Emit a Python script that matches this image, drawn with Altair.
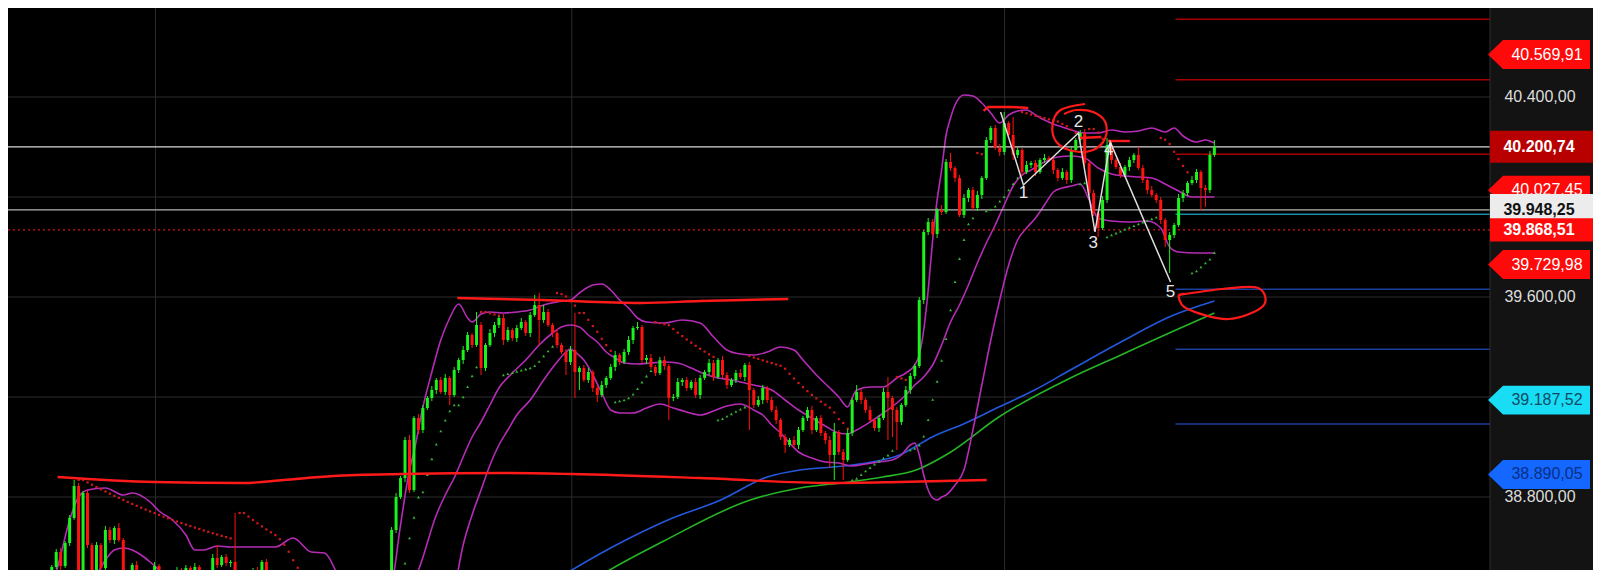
import altair as alt
import pandas as pd

# ---------------- candles (bar index t, price) ----------------
first_open = 38460
closes = [
 38520, 38580, 38524, 38616, 38716, 38844, 38428, 38816, 38608, 38468,
 38608, 38516, 38668, 38628, 38676, 38628, 38488, 38428, 38528, 38468,
 38420, 38488, 38436, 38524, 38476, 38428, 38488, 38448, 38508, 38468,
 38516, 38500, 38520, 38488, 38448, 38488, 38556, 38528, 38560, 38536,
 38540, 38428, 38396, 38448, 38488, 38508, 38500, 38540, 38488, 38448,
 38388, 38368, 38340, 38308, 38328, 38288, 38260, 38276, 38248, 38228,
 38268, 38288, 38260, 38308, 38340, 38316, 38368, 38396, 38372, 38408,
 38388, 38428, 38404, 38448, 38420, 38468, 38668, 38800, 38876, 39028,
 38828, 39116, 39068, 39156, 39196, 39228, 39268, 39220, 39276, 39208,
 39308, 39348, 39388, 39448, 39408, 39488, 39316, 39408, 39456, 39488,
 39516, 39428, 39468, 39436, 39476, 39500, 39456, 39528, 39568, 39508,
 39540, 39488, 39456, 39408, 39380, 39340, 39388, 39300, 39316, 39268,
 39300, 39236, 39208, 39248, 39276, 39320, 39368, 39340, 39380, 39428,
 39476, 39480, 39348, 39356, 39320, 39296, 39348, 39324, 39196, 39200,
 39260, 39268, 39236, 39260, 39208, 39276, 39300, 39336, 39280, 39348,
 39288, 39248, 39268, 39296, 39280, 39328, 39228, 39168, 39188, 39236,
 39188, 39148, 39108, 39040, 39008, 39028, 39008, 39068, 39116, 39148,
 39068, 39116, 39056, 39028, 38968, 39060, 38980, 38948, 39056, 39188,
 39220, 39188, 39148, 39108, 39076, 39116, 39220, 39196, 39148, 39100,
 39168, 39228, 39284, 39324, 39588, 39860, 39900, 39852, 39948, 39940,
 40140, 40116, 40076, 39928, 39996, 40028, 39956, 40008, 40076, 40228,
 40276, 40196, 40180, 40296, 40248, 40168, 40188, 40100, 40128, 40136,
 40100, 40148, 40156, 40148, 40108, 40076, 40100, 40068, 40188, 40228,
 40256, 40136, 40016, 39936, 39876, 39988, 40208, 40148, 40120, 40088,
 40120, 40148, 40168, 40116, 40068, 40028, 40008, 39988, 39908, 39828,
 39848, 39888, 39996, 40016, 40056, 40068, 40100, 40036, 40028, 40168,
 40200.74,
]
wick_up = [
 8, 12, 16, 8, 12, 24, 12, 8, 12, 8,
 12, 8, 16, 12, 8, 20, 8, 12, 8, 16,
 8, 12, 8, 16, 8, 12, 8, 16, 12, 8,
 12, 8, 16, 8, 12, 8, 16, 52, 8, 12,
 8, 196, 12, 8, 16, 8, 12, 8, 12, 8,
 12, 8, 16, 8, 12, 8, 16, 8, 12, 8,
 12, 8, 16, 8, 12, 8, 16, 8, 12, 8,
 12, 8, 16, 8, 12, 8, 12, 16, 8, 12,
 20, 8, 16, 12, 8, 16, 8, 12, 16, 8,
 12, 8, 16, 12, 8, 52, 12, 8, 16, 12,
 8, 16, 12, 8, 12, 16, 8, 12, 40, 48,
 28, 12, 8, 16, 8, 12, 16, 148, 8, 12,
 16, 8, 12, 16, 8, 12, 16, 8, 12, 16,
 8, 20, 8, 12, 16, 8, 12, 16, 8, 12,
 16, 8, 12, 8, 16, 12, 8, 16, 12, 8,
 16, 12, 8, 12, 16, 8, 12, 8, 16, 12,
 8, 12, 16, 8, 12, 8, 16, 12, 8, 12,
 16, 8, 12, 8, 16, 36, 8, 12, 16, 8,
 28, 12, 8, 16, 8, 12, 16, 60, 8, 12,
 8, 16, 12, 8, 12, 8, 16, 12, 8, 20,
 12, 36, 8, 12, 16, 8, 12, 16, 8, 12,
 8, 12, 16, 44, 8, 72, 12, 8, 16, 8,
 12, 8, 16, 8, 12, 8, 16, 8, 12, 8,
 12, 16, 8, 12, 8, 16, 28, 12, 8, 16,
 8, 12, 8, 32, 12, 8, 16, 8, 12, 8,
 12, 8, 16, 12, 8, 16, 12, 8, 12, 16,
 27,
]
wick_dn = [
 12, 8, 16, 8, 12, 8, 40, 40, 12, 8,
 16, 12, 8, 12, 16, 8, 12, 16, 8, 12,
 8, 16, 12, 8, 12, 16, 8, 12, 8, 16,
 8, 12, 16, 8, 12, 8, 16, 12, 8, 12,
 16, 8, 12, 16, 8, 12, 8, 16, 12, 8,
 12, 16, 8, 12, 8, 16, 12, 8, 16, 12,
 8, 12, 16, 8, 12, 16, 8, 12, 8, 16,
 12, 8, 16, 12, 8, 12, 20, 12, 8, 16,
 12, 8, 16, 12, 8, 12, 16, 8, 12, 40,
 8, 12, 16, 8, 12, 8, 28, 12, 8, 16,
 12, 20, 8, 12, 16, 8, 12, 16, 8, 100,
 12, 8, 16, 12, 8, 52, 12, 104, 72, 8,
 12, 16, 28, 8, 12, 8, 16, 12, 8, 12,
 16, 8, 12, 16, 8, 12, 8, 16, 88, 12,
 8, 16, 12, 8, 12, 16, 8, 12, 16, 8,
 12, 16, 8, 12, 8, 16, 160, 12, 8, 16,
 12, 8, 16, 12, 32, 8, 12, 16, 8, 12,
 16, 8, 12, 16, 52, 100, 12, 80, 8, 12,
 8, 16, 12, 8, 12, 16, 8, 168, 108, 112,
 12, 8, 16, 12, 8, 16, 12, 8, 16, 12,
 8, 12, 16, 8, 12, 16, 8, 12, 16, 8,
 12, 8, 16, 12, 8, 20, 12, 16, 8, 12,
 16, 8, 12, 8, 16, 12, 8, 16, 12, 8,
 12, 16, 8, 12, 36, 8, 12, 16, 8, 12,
 8, 16, 12, 8, 12, 16, 8, 12, 16, 28,
 132, 12, 8, 16, 12, 8, 12, 88, 68, 12,
 8,
]

# ---------------- Bollinger bands ----------------
up_t = [0, 2, 4, 6, 8, 12, 16, 18, 22, 24, 27, 30, 32, 34, 37, 40, 45, 50, 54, 58, 61, 64, 66, 70, 74, 76, 78, 80, 81, 83,
        85, 87, 89, 91, 93, 94, 96, 98, 101, 104, 107, 110, 113, 116, 118, 121, 123, 125, 127, 129, 131, 133, 137, 141,
        145, 148, 151, 154, 157, 160, 163, 166, 168, 171, 174, 176, 178, 179, 180, 183, 186, 189, 191, 193, 194, 195, 196,
        197, 198, 199, 200, 201, 202, 204, 206, 208, 210, 212, 214, 216, 218, 220, 222, 224, 226, 228, 231, 234, 237, 240,
        243, 246, 249, 251, 253, 256, 258, 260]
up_v = [38428, 38568, 38708, 38800, 38828, 38836, 38808, 38816, 38780, 38744, 38708, 38648, 38588, 38588, 38604, 38600,
        38600, 38600, 38636, 38580, 38576, 38488, 38428, 38388, 38388, 38448, 38688, 38908, 38980, 39160, 39300, 39428,
        39516, 39572, 39516, 39500, 39532, 39540, 39536, 39540, 39548, 39568, 39580, 39588, 39616, 39648, 39652, 39628,
        39588, 39556, 39516, 39500, 39496, 39508, 39496, 39440, 39388, 39372, 39368, 39380, 39400, 39388, 39348, 39288,
        39236, 39200, 39160, 39196, 39228, 39240, 39240, 39276, 39296, 39328, 39368, 39468, 39628, 39828, 39988, 40108,
        40248, 40316, 40368, 40408, 40404, 40376, 40336, 40296, 40328, 40344, 40348, 40328, 40308, 40292, 40280, 40268,
        40256, 40256, 40268, 40260, 40264, 40276, 40260, 40276, 40244, 40220, 40228, 40216]
mid_t = [6, 8, 10, 12, 14, 16, 18, 20, 22, 24, 26, 28, 32, 36, 40, 45, 50, 54, 58, 62, 66, 70, 74, 78, 82, 86, 88, 90, 92,
         94, 96, 98, 100, 103, 106, 109, 112, 114, 116, 118, 120, 122, 124, 126, 128, 131, 134, 137, 140, 143, 146, 149,
         152, 155, 158, 161, 164, 167, 170, 173, 176, 178, 180, 183, 186, 189, 191, 193, 195, 197, 199, 201, 203, 205, 207,
         209, 211, 213, 215, 217, 219, 222, 225, 228, 231, 234, 237, 240, 243, 246, 249, 252, 255, 258, 260]
mid_v = [38348, 38428, 38488, 38548, 38588, 38596, 38588, 38568, 38540, 38508, 38476, 38448, 38428, 38460, 38480, 38484,
         38468, 38428, 38388, 38348, 38328, 38328, 38328, 38388, 38508, 38728, 38808, 38876, 38960, 39040, 39100, 39168,
         39236, 39296, 39348, 39408, 39456, 39480, 39488, 39480, 39448, 39420, 39380, 39356, 39336, 39332, 39336, 39340,
         39336, 39316, 39292, 39276, 39268, 39256, 39244, 39228, 39188, 39148, 39116, 39084, 39056, 39052, 39068, 39100,
         39136, 39176, 39208, 39248, 39280, 39328, 39408, 39500, 39568, 39648, 39736, 39816, 39888, 39968, 40044, 40088,
         40108, 40140, 40160, 40164, 40156, 40116, 40092, 40084, 40080, 40076, 40052, 40024, 40000, 40000, 40000]
low_t = [0, 10, 20, 30, 40, 50, 60, 70, 80, 86, 90, 92, 94, 96, 98, 100, 102, 104, 107, 110, 113, 115, 116, 117, 119, 121,
         123, 125, 127, 130, 133, 136, 139, 142, 145, 148, 151, 154, 157, 159, 161, 163, 165, 167, 170, 173, 176, 179, 182,
         185, 188, 190, 192, 193, 194, 195, 196, 197, 198, 199, 200, 202, 204, 206, 208, 210, 212, 214, 216, 218, 220, 222,
         224, 226, 228, 230, 232, 234, 237, 241, 245, 248, 250, 252, 256, 260]
low_v = [38068, 38228, 38308, 38308, 38348, 38328, 38228, 38228, 38148, 38228, 38428, 38608, 38728, 38828, 38928, 39008,
         39068, 39128, 39188, 39268, 39340, 39380, 39392, 39380, 39348, 39288, 39216, 39148, 39136, 39136, 39156, 39172,
         39156, 39140, 39128, 39144, 39164, 39172, 39148, 39128, 39088, 39056, 39016, 38980, 38956, 38940, 38936, 38924,
         38932, 38940, 38948, 38968, 39008, 39016, 38968, 38888, 38828, 38796, 38788, 38800, 38808, 38848, 38908, 39068,
         39248, 39428, 39588, 39728, 39828, 39876, 39916, 39968, 40020, 40036, 40044, 40052, 39988, 39916, 39904, 39900,
         39904, 39876, 39800, 39780, 39776, 39776]

# ---------------- moving averages ----------------
blue_t = [109.6, 113.3, 125.8, 137.8, 149.6, 160.0, 167.3, 174.7, 182.2, 189.6, 196.9, 204.4, 211.8, 219.8, 227.8,
          239.1, 250.4, 260.0]
blue_v = [38436, 38476, 38604, 38708, 38788, 38880, 38908, 38920, 38936, 38968, 39040, 39096, 39160, 39228, 39308,
          39420, 39524, 39584]
green_t = [118.4, 122.9, 136.9, 156.2, 167.3, 178.4, 185.8, 193.3, 200.7, 211.8, 227.8, 239.1, 250.4, 260.0]
green_v = [38436, 38488, 38624, 38788, 38836, 38860, 38880, 38908, 38976, 39120, 39276, 39368, 39460, 39536]

# ---------------- levels ----------------
grid_levels = [40400, 40000, 39600, 39200, 38800]
vgrid_t = [23.2, 116.3, 213.1]
white_levels = [40200.74, 39948.25]
white_colors = ["#d8d8d8", "#b4b4b4"]
dotted_level = 39868.51
pivot_levels = [40711, 40469, 40171, 39931, 39631, 39391, 39092]
pivot_colors = ["#a80000", "#a80000", "#a80000", "#1c8aa8", "#1d3f9c", "#1d3f9c", "#1d3f9c"]
pivot_start_t = 251.3

# ---------------- hand drawn annotations ----------------
red_paths = {
    "a": ([90.7, 109.6, 131.8, 145.1, 164.7], [39596, 39588, 39576, 39584, 39592]),
    "b": ([1.3, 22.9, 42.9, 51.8, 62.9, 78.4, 100.7, 116.2, 145.1, 174.0, 189.6, 209.1],
          [38880, 38860, 38856, 38868, 38884, 38892, 38896, 38892, 38876, 38856, 38860, 38868]),
    "c": ([208.4, 209.6, 214.0, 218.4], [40344, 40360, 40360, 40356]),
    "d": ([229.6, 234.7], [40236, 40240]),
    "e": ([236.2, 241.1], [40224, 40224]),
}
circle1_t = [231.1, 225.6, 223.8, 224.7, 228.4, 232.9, 235.6, 235.6, 232.9, 229.1, 226.4]
circle1_v = [40372, 40348, 40288, 40220, 40184, 40188, 40236, 40300, 40340, 40348, 40332]
circle2_t = [252.2, 261.8, 269.8, 270.9, 263.1, 254.0, 252.0, 253.5]
circle2_v = [39608, 39632, 39636, 39564, 39512, 39552, 39604, 39612]
zig_t = [212.2, 217.3, 229.6, 233.3, 236.7, 250.2]
zig_v = [40340, 40048, 40256, 39860, 40220, 39660]
zig_labels = ["1", "2", "3", "4", "5"]
zig_lab_t = [217.3, 229.6, 232.9, 236.4, 250.2]
zig_lab_v = [40016, 40300, 39816, 40188, 39620]

# ---------------- right axis badges ----------------
arrow_vals = [40569.91, 40027.45, 39729.98, 39187.52, 38890.05]
arrow_text = ["40.569,91", "40.027,45", "39.729,98", "39.187,52", "38.890,05"]
arrow_fill = ["#ff0a0a", "#ff0a0a", "#ff0a0a", "#19dcf5", "#1467ff"]
arrow_tcol = ["#ffffff", "#ffffff", "#ffffff", "#0d4a66", "#0a2f86"]
axis_vals = [40400, 39600, 38800]
axis_text = ["40.400,00", "39.600,00", "38.800,00"]

# ================= build =================
n = len(closes)
opens = [first_open] + closes[:-1]
highs = [max(o, c) + u for o, c, u in zip(opens, closes, wick_up)]
lows = [min(o, c) - d for o, c, d in zip(opens, closes, wick_dn)]
candles = pd.DataFrame({
    "t": list(range(n)), "open": opens, "close": closes, "high": highs, "low": lows,
    "dir": ["up" if c >= o else "down" for o, c in zip(opens, closes)],
})


def psar(hi, lo, af0=0.02, afstep=0.02, afmax=0.2):
    out = []
    up = True
    sar = lo[0]
    ep = hi[0]
    af = af0
    for i in range(1, len(hi)):
        sar = sar + af * (ep - sar)
        if up:
            sar = min(sar, lo[i - 1], lo[i - 2] if i > 1 else lo[i - 1])
            if lo[i] < sar:
                up, sar, ep, af = False, ep, lo[i], af0
            elif hi[i] > ep:
                ep, af = hi[i], min(af + afstep, afmax)
        else:
            sar = max(sar, hi[i - 1], hi[i - 2] if i > 1 else hi[i - 1])
            if hi[i] > sar:
                up, sar, ep, af = True, ep, hi[i], af0
            elif lo[i] < ep:
                ep, af = lo[i], min(af + afstep, afmax)
        out.append({"t": i, "v": sar, "dir": "up" if up else "down"})
    return pd.DataFrame(out)


sar_df = psar(highs, lows)

W, H = 1585, 562
xs = alt.Scale(domain=[-8.6667, 343.5556], nice=False, zero=False)
ys = alt.Scale(domain=[38508, 40756], nice=False, zero=False)


def X(f="t"):
    return alt.X(f"{f}:Q", scale=xs, axis=None)


def Y(f="v"):
    return alt.Y(f"{f}:Q", scale=ys, axis=None)


PANEL_X = 1482
layers = []

# grid
layers.append(alt.Chart(pd.DataFrame({"v": grid_levels})).mark_rule(color="#2c2c2c", strokeWidth=1).encode(
    y=Y(), x=alt.value(0), x2=alt.value(PANEL_X)))
layers.append(alt.Chart(pd.DataFrame({"t": vgrid_t})).mark_rule(color="#2c2c2c", strokeWidth=1).encode(
    x=X(), y=alt.value(0), y2=alt.value(H)))

# moving averages
layers.append(alt.Chart(pd.DataFrame({"t": blue_t, "v": blue_v})).mark_line(
    color="#2458dc", strokeWidth=1.6, interpolate="monotone", clip=True).encode(x=X(), y=Y()))
layers.append(alt.Chart(pd.DataFrame({"t": green_t, "v": green_v})).mark_line(
    color="#26b526", strokeWidth=1.6, interpolate="monotone", clip=True).encode(x=X(), y=Y()))

# Bollinger bands
bb = pd.concat([
    pd.DataFrame({"t": up_t, "v": up_v, "b": "upper"}),
    pd.DataFrame({"t": mid_t, "v": mid_v, "b": "middle"}),
    pd.DataFrame({"t": low_t, "v": low_v, "b": "lower"}),
])
layers.append(alt.Chart(bb).mark_line(color="#b62cb6", strokeWidth=1.6, interpolate="monotone", clip=True).encode(
    x=X(), y=Y(), detail="b:N"))

# price levels
layers.append(alt.Chart(pd.DataFrame({"v": white_levels, "c": white_colors})).mark_rule(strokeWidth=1.2).encode(
    y=Y(), x=alt.value(0), x2=alt.value(PANEL_X), color=alt.Color("c:N", scale=None)))
layers.append(alt.Chart(pd.DataFrame({"v": [dotted_level]})).mark_rule(
    color="#d81414", strokeWidth=1.2, strokeDash=[2, 3]).encode(y=Y(), x=alt.value(0), x2=alt.value(PANEL_X)))
layers.append(alt.Chart(pd.DataFrame({"v": pivot_levels, "c": pivot_colors, "t": pivot_start_t})).mark_rule(
    strokeWidth=1.6).encode(y=Y(), x=X(), x2=alt.value(PANEL_X), color=alt.Color("c:N", scale=None)))

# parabolic SAR
layers.append(alt.Chart(sar_df[sar_df["dir"] == "down"]).mark_point(
    shape="square", filled=True, size=5, color="#d01818", opacity=1, clip=True).encode(x=X(), y=Y()))
layers.append(alt.Chart(sar_df[sar_df["dir"] == "up"]).mark_point(
    shape="triangle-up", filled=True, size=9, color="#36b336", opacity=1, clip=True).encode(x=X(), y=Y()))

# candles
cscale = alt.Scale(domain=["up", "down"], range=["#1cf21c", "#ff1212"])
layers.append(alt.Chart(candles).mark_rule(strokeWidth=1, clip=True).encode(
    x=X(), y=Y("low"), y2="high:Q", color=alt.Color("dir:N", scale=cscale, legend=None)))
layers.append(alt.Chart(candles).mark_bar(size=3, clip=True).encode(
    x=X(), y=Y("open"), y2="close:Q", color=alt.Color("dir:N", scale=cscale, legend=None)))

# hand-drawn red lines
rp = pd.concat([pd.DataFrame({"t": tt, "v": vv, "g": g, "k": range(len(tt))}) for g, (tt, vv) in red_paths.items()])
layers.append(alt.Chart(rp).mark_line(color="#ff1a1a", strokeWidth=2.4, interpolate="monotone", clip=True).encode(
    x=X(), y=Y(), detail="g:N", order="k:Q"))
circ = pd.concat([
    pd.DataFrame({"t": circle1_t, "v": circle1_v, "g": "c1", "k": range(len(circle1_t))}),
    pd.DataFrame({"t": circle2_t, "v": circle2_v, "g": "c2", "k": range(len(circle2_t))}),
])
layers.append(alt.Chart(circ).mark_line(color="#ff1a1a", strokeWidth=2.2, interpolate="cardinal", clip=True).encode(
    x=X(), y=Y(), detail="g:N", order="k:Q"))

# wave count
layers.append(alt.Chart(pd.DataFrame({"t": zig_t, "v": zig_v, "k": range(len(zig_t))})).mark_line(
    color="#dedede", strokeWidth=1.5).encode(x=X(), y=Y(), order="k:Q"))
layers.append(alt.Chart(pd.DataFrame({"t": zig_lab_t, "v": zig_lab_v, "s": zig_labels})).mark_text(
    color="#e8e8e8", fontSize=17, font="Liberation Sans", baseline="middle", align="center").encode(
    x=X(), y=Y(), text="s:N"))

# right price panel
layers.append(alt.Chart(pd.DataFrame({"v": [0]})).mark_rect(color="#131313").encode(
    x=alt.value(PANEL_X), x2=alt.value(W), y=alt.value(0), y2=alt.value(H)))
layers.append(alt.Chart(pd.DataFrame({"v": [0]})).mark_rule(color="#2e2e2e", strokeWidth=1).encode(
    x=alt.value(PANEL_X), y=alt.value(0), y2=alt.value(H)))
layers.append(alt.Chart(pd.DataFrame({"v": axis_vals, "s": axis_text})).mark_text(
    color="#dcdcdc", fontSize=16, font="Liberation Sans", align="center", baseline="middle").encode(
    x=alt.value(1532), y=Y(), text="s:N"))

ARROW = "M -1 0 L -0.706 -0.284 L 1 -0.284 L 1 0.284 L -0.706 0.284 Z"
adf = pd.DataFrame({"v": arrow_vals, "s": arrow_text, "f": arrow_fill, "tc": arrow_tcol})
layers.append(alt.Chart(adf).mark_point(shape=ARROW, filled=True, size=10404, opacity=1, strokeWidth=0).encode(
    x=alt.value(1531), y=Y(), fill=alt.Fill("f:N", scale=None)))
layers.append(alt.Chart(adf).mark_text(fontSize=16, font="Liberation Sans", align="center", baseline="middle").encode(
    x=alt.value(1539), y=Y(), text="s:N", color=alt.Color("tc:N", scale=None)))


def rect_badge(val, txt, fill, tcol, hh, bold=True):
    shape = f"M -1 {-hh} L 1 {-hh} L 1 {hh} L -1 {hh} Z"
    d = pd.DataFrame({"v": [val], "s": [txt]})
    b = alt.Chart(d).mark_point(shape=shape, filled=True, size=11025, opacity=1, strokeWidth=0, fill=fill).encode(
        x=alt.value(1534.5), y=Y())
    t = alt.Chart(d).mark_text(fontSize=16, font="Liberation Sans", fontWeight="bold" if bold else "normal",
                               align="center", baseline="middle", color=tcol).encode(
        x=alt.value(1531), y=Y(), text="s:N")
    return [b, t]


layers += rect_badge(40200.74, "40.200,74", "#b80000", "#ffffff", 0.305)
layers += rect_badge(39948.25, "39.948,25", "#ececec", "#111111", 0.305)
layers += rect_badge(39868.51, "39.868,51", "#ff0a0a", "#ffffff", 0.22)

chart = alt.layer(*layers).properties(
    width=W, height=H, padding=0, autosize="none", background="#000000"
).configure_view(stroke=None, fill="#000000")

chart.save("out.html", embed_options={"renderer": "svg", "actions": False})
